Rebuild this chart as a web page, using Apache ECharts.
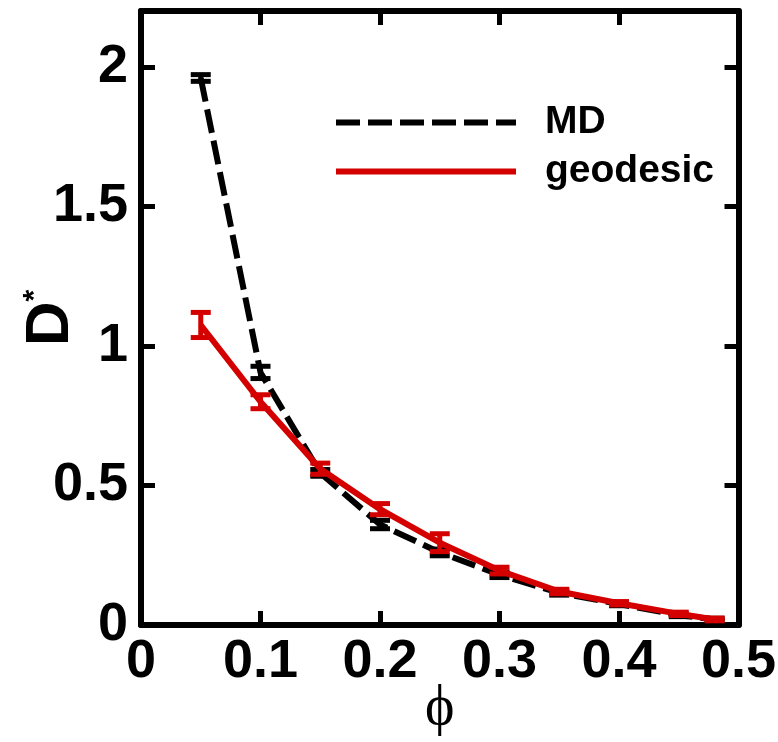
<!DOCTYPE html>
<html><head><meta charset="utf-8">
<script src="https://cdn.jsdelivr.net/npm/echarts@6/dist/echarts.min.js"></script>
<style>html,body{margin:0;padding:0;background:#fff}#c{width:778px;height:742px}</style>
</head><body><div id="c"></div>
<script>
const phi = [0.05, 0.1, 0.15, 0.2, 0.25, 0.3, 0.35, 0.4, 0.45, 0.48];
const mdValues = [1.96, 0.905, 0.545, 0.36, 0.26, 0.18, 0.115, 0.075, 0.035, 0.02];
const mdErrors = [0.012, 0.022, 0.012, 0.015, 0.012, 0.01, 0.008, 0.006, 0.005, 0.004];
const geoValues = [1.075, 0.80, 0.56, 0.415, 0.295, 0.195, 0.12, 0.078, 0.04, 0.02];
const geoErrors = [0.045, 0.025, 0.02, 0.02, 0.032, 0.012, 0.008, 0.006, 0.006, 0.005];
const seriesNames = ['MD', 'geodesic'];
const xTickLabels = ['0', '0.1', '0.2', '0.3', '0.4', '0.5'];
const yTickLabels = ['0', '0.5', '1', '1.5', '2'];

const BLACK = '#000000', RED = '#d40000';
const FONT = 'Liberation Sans, Arial, sans-serif';

function errRender(color) {
  return function (params, api) {
    const x = api.value(0), lo = api.value(1), hi = api.value(2);
    const a = api.coord([x, lo]), b = api.coord([x, hi]);
    const hw = 10;
    const style = { stroke: color, lineWidth: 5, fill: null };
    return { type: 'group', children: [
      { type: 'line', shape: { x1: a[0], y1: a[1], x2: b[0], y2: b[1] }, style: style },
      { type: 'line', shape: { x1: a[0] - hw, y1: a[1], x2: a[0] + hw, y2: a[1] }, style: style },
      { type: 'line', shape: { x1: b[0] - hw, y1: b[1], x2: b[0] + hw, y2: b[1] }, style: style }
    ]};
  };
}

const axisLineStyle = { show: true, onZero: false, lineStyle: { color: BLACK, width: 6 } };
const tickStyle = { show: true, inside: true, length: 14, lineStyle: { color: BLACK, width: 5 } };
const labelBase = { color: BLACK, fontFamily: FONT, fontWeight: 'bold', fontSize: 54 };

const chart = echarts.init(document.getElementById('c'));
chart.setOption({
  animation: false,
  backgroundColor: '#ffffff',
  grid: { left: 141, right: 39.5, top: 11, bottom: 117, containLabel: false, outerBoundsMode: 'none' },
  legend: {
    data: seriesNames,
    orient: 'vertical',
    left: 333, top: 103, padding: 0,
    itemWidth: 180, itemHeight: 24, itemGap: 10,
    itemStyle: { opacity: 0 },
    lineStyle: { width: 'inherit', type: 'inherit' },
    textStyle: { color: BLACK, fontFamily: FONT, fontWeight: 'bold', fontSize: 39, padding: [0, 0, 0, 24] }
  },
  xAxis: [{
    type: 'value', min: 0, max: 0.5, interval: 0.1, position: 'bottom',
    axisLine: axisLineStyle, axisTick: tickStyle, splitLine: { show: false },
    axisLabel: Object.assign({ margin: 10, formatter: function (v) { return xTickLabels[Math.round(v * 10)]; } }, labelBase),
    name: 'ϕ', nameLocation: 'middle', nameGap: 56, nameMoveOverlap: false,
    nameTextStyle: { color: BLACK, fontFamily: 'Liberation Serif, DejaVu Serif, serif', fontSize: 56 }
  }, {
    type: 'value', min: 0, max: 0.5, interval: 0.1, position: 'top',
    axisLine: axisLineStyle, axisTick: tickStyle, splitLine: { show: false }, axisLabel: { show: false }
  }],
  yAxis: [{
    type: 'value', min: 0, max: 2.2, interval: 0.5, position: 'left',
    axisLine: axisLineStyle, axisTick: tickStyle, splitLine: { show: false },
    axisLabel: Object.assign({ margin: 13, showMaxLabel: false, formatter: function (v) { const i = Math.round(v * 2); return (Math.abs(v * 2 - i) < 1e-6 && i < yTickLabels.length) ? yTickLabels[i] : ''; } }, labelBase),
    name: '{d|D}{s|*}', nameLocation: 'middle', nameGap: 59, nameRotate: 90, nameMoveOverlap: false,
    nameTextStyle: { rich: {
      d: { color: BLACK, fontFamily: FONT, fontWeight: 'bold', fontSize: 62 },
      s: { color: BLACK, fontFamily: FONT, fontWeight: 'bold', fontSize: 30, verticalAlign: 'top' }
    } }
  }, {
    type: 'value', min: 0, max: 2.2, interval: 0.5, position: 'right',
    axisLine: axisLineStyle, axisTick: tickStyle, splitLine: { show: false }, axisLabel: { show: false }
  }],
  series: [
    {
      name: 'MD', type: 'line', xAxisIndex: 0, yAxisIndex: 0, symbol: 'none', z: 2,
      data: phi.map(function (x, i) { return [x, mdValues[i]]; }),
      itemStyle: { color: BLACK },
      lineStyle: { color: BLACK, width: 6, type: [24, 8] }
    },
    {
      name: 'MD err', type: 'custom', xAxisIndex: 0, yAxisIndex: 0, z: 3,
      renderItem: errRender(BLACK),
      encode: { x: 0, y: [1, 2] },
      data: phi.map(function (x, i) { return [x, mdValues[i] - mdErrors[i], mdValues[i] + mdErrors[i]]; })
    },
    {
      name: 'geodesic', type: 'line', xAxisIndex: 0, yAxisIndex: 0, symbol: 'none', z: 4,
      data: phi.map(function (x, i) { return [x, geoValues[i]]; }),
      itemStyle: { color: RED },
      lineStyle: { color: RED, width: 6, type: 'solid' }
    },
    {
      name: 'geodesic err', type: 'custom', xAxisIndex: 0, yAxisIndex: 0, z: 5,
      renderItem: errRender(RED),
      encode: { x: 0, y: [1, 2] },
      data: phi.map(function (x, i) { return [x, geoValues[i] - geoErrors[i], geoValues[i] + geoErrors[i]]; })
    }
  ]
});
</script>
</body></html>
